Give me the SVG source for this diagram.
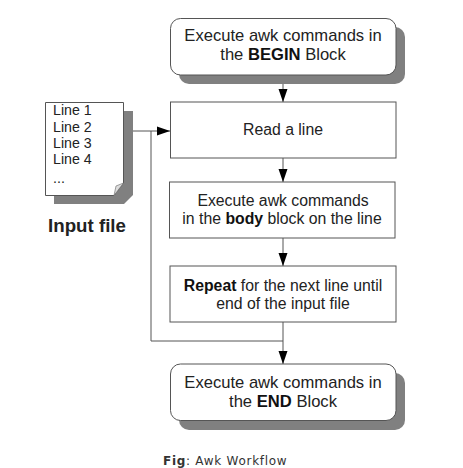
<svg xmlns="http://www.w3.org/2000/svg" width="463" height="468" viewBox="0 0 463 468">
<style>
.box{fill:#fff;stroke:#555;stroke-width:1}
.sh{fill:#808080;stroke:none}
.t{font-family:"Liberation Sans",Arial,sans-serif;font-size:16.6px;fill:#222;text-anchor:middle}
.s{font-size:15.8px}
.l{font-family:"Liberation Sans",Arial,sans-serif;font-size:14.2px;fill:#222}
.c{fill:none;stroke:#555;stroke-width:1}
.b{font-weight:700;fill:#111}
</style>
<defs>
<marker id="a" markerUnits="userSpaceOnUse" markerWidth="13" markerHeight="10" refX="13" refY="5" orient="auto"><path d="M0 0.500L13 5L0 9.500Z" fill="#000"/></marker>
</defs>
<rect width="463" height="468" fill="#fff"/>
<g id="connectors">
<path class="c" d="M283 75V102" marker-end="url(#a)"/>
<path class="c" d="M283 158V182" marker-end="url(#a)"/>
<path class="c" d="M283 238V266" marker-end="url(#a)"/>
<path class="c" d="M283 322V364" marker-end="url(#a)"/>
<path class="c" d="M133 131H170" marker-end="url(#a)"/>
<path class="c" d="M151 131V341H283"/>
</g>
<g id="input-file">
<path class="sh" d="M54 111H133V195L124 204H54Z"/>
<path class="box" d="M45.500 102.500H123.500V183L114 195.500H45.500Z"/>
<path d="M123.500 183L114 195.500L116 186Z" fill="#ddd" stroke="#777" stroke-width=".7"/>
<text class="l" x="53" y="115">Line 1</text>
<text class="l" x="53" y="132">Line 2</text>
<text class="l" x="53" y="148">Line 3</text>
<text class="l" x="53" y="164">Line 4</text>
<text class="l" x="53" y="183">...</text>
<text x="87" y="232" text-anchor="middle" font-family="'Liberation Sans',Arial,sans-serif" font-size="18.700" font-weight="700" fill="#222">Input file</text>
</g>
<g id="begin">
<rect class="sh" x="179" y="27" width="226" height="57" rx="10"/>
<rect class="box" x="170.500" y="18.500" width="225.500" height="56.500" rx="10"/>
<text class="t" x="283" y="41">Execute awk commands in</text>
<text class="t" x="283" y="60">the <tspan class="b">BEGIN</tspan> Block</text>
</g>
<g id="read">
<rect class="box" x="170.500" y="102" width="225.500" height="56"/>
<text class="t s" x="283" y="135">Read a line</text>
</g>
<g id="body">
<rect class="box" x="169.500" y="182" width="225.500" height="56"/>
<text class="t s" x="283" y="206">Execute awk commands</text>
<text class="t s" x="282" y="224">in the <tspan class="b">body</tspan> block on the line</text>
</g>
<g id="repeat">
<rect class="box" x="170" y="266" width="226" height="56"/>
<text class="t s" x="283" y="291"><tspan class="b">Repeat</tspan> for the next line until</text>
<text class="t s" x="283" y="309">end of the input file</text>
</g>
<g id="end">
<rect class="sh" x="179" y="373" width="226" height="57" rx="10"/>
<rect class="box" x="170.500" y="364" width="225.500" height="56.500" rx="10"/>
<text class="t" x="283" y="388">Execute awk commands in</text>
<text class="t" x="283" y="407">the <tspan class="b">END</tspan> Block</text>
</g>
<text x="163" y="465" font-family="'DejaVu Sans',sans-serif" font-size="12" letter-spacing=".72" fill="#333"><tspan font-weight="700">Fig</tspan>: Awk Workflow</text>
</svg>
